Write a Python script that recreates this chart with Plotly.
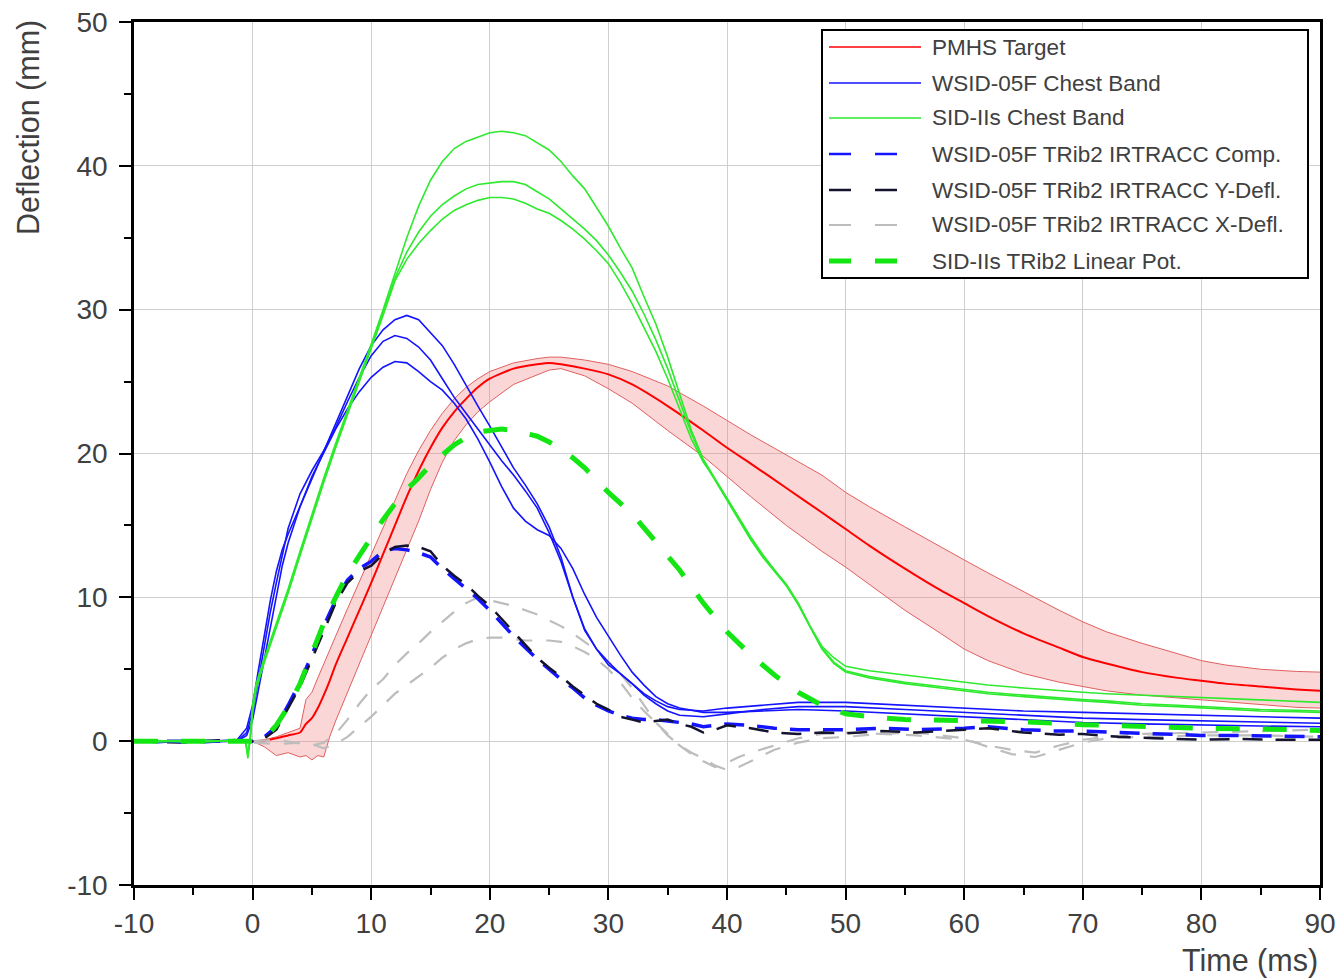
import plotly.graph_objects as go

# ---------------- data ----------------
t_pmhs = [0, 1, 2, 3, 4, 4.5, 5, 5.5, 6, 6.5, 7, 8, 9, 10, 11, 12, 13, 14, 15, 16, 17, 18, 19, 20,
          22, 24, 25, 26, 28, 30, 32, 35, 38, 40, 42, 45, 48, 50, 52, 55, 58, 60, 62, 65, 68, 70,
          72, 75, 78, 80, 82, 85, 88, 90]
pmhs_mean = [0, 0.05, 0.2, 0.4, 0.6, 1.2, 1.6, 2.3, 3.2, 4.2, 5.3,
             7.2, 9.1, 11.0, 13.0, 15.0, 17.0, 18.8, 20.4, 21.8, 22.9, 23.8, 24.6, 25.2,
             25.9, 26.2, 26.3, 26.2, 25.9, 25.5, 24.8, 23.3, 21.6, 20.4, 19.3, 17.6, 15.9, 14.75,
             13.6, 12.0, 10.5, 9.6, 8.7, 7.5, 6.5, 5.85, 5.4, 4.8, 4.4, 4.2, 4.0, 3.8, 3.6, 3.5]
pmhs_upper = [0, 0.1, 0.3, 0.6, 0.9, 2.9, 3.4, 4.4, 5.4, 6.4, 7.3,
              9.2, 11.1, 13.0, 14.9, 16.8, 18.6, 20.2, 21.6, 22.8, 23.8, 24.6, 25.2, 25.7,
              26.3, 26.6, 26.7, 26.7, 26.5, 26.2, 25.7, 24.7, 23.3, 22.3, 21.3, 19.9, 18.5, 17.3,
              16.3, 14.9, 13.5, 12.6, 11.7, 10.4, 9.1, 8.3, 7.6, 6.8, 6.1, 5.6, 5.3, 5.0, 4.85, 4.8]
pmhs_lower = [0, -0.4, -1.0, -0.8, -1.1, -1.0, -1.3, -1.0, -1.1, 0.3, 1.4,
              3.4, 5.3, 7.3, 9.3, 11.3, 13.3, 15.3, 17.5, 19.4, 20.9, 22.0, 22.9, 23.6,
              24.8, 25.5, 25.8, 25.9, 25.4, 24.5, 23.5, 21.6, 19.8, 18.4, 17.0, 15.0, 13.2, 12.1,
              10.9, 9.1, 7.5, 6.4, 5.6, 4.7, 4.1, 3.8, 3.5, 3.2, 3.0, 2.85, 2.7, 2.5, 2.35, 2.3]

t_wsid_band = [-10, -8, -6, -4, -2, -1.3, -0.5, 0, 0.5, 1, 1.5, 2, 2.5, 3,
               4, 5, 6, 7, 8, 9, 10, 11, 12, 13, 14, 15, 16, 17, 18, 19, 20, 21, 22, 23,
               24, 25, 26, 27, 28, 29, 30, 31, 32, 33, 34, 35, 36,
               38, 40, 43, 46, 50, 55, 60, 65, 70, 75, 80, 85, 90]
wsid_band_a = [0, 0, -0.1, 0, 0.1, 0.1, 0.9, 2.5, 5.0, 7.5, 9.8, 11.8, 13.3, 14.4,
               16.3, 18.2, 20.1, 22.0, 24.0, 25.9, 27.5, 28.6, 29.3, 29.6,
               29.3, 28.4, 27.5, 26.2, 24.7, 23.3, 21.9, 20.4, 19.0, 17.8,
               16.5, 14.9, 12.8, 10.0, 7.8, 6.4, 5.5, 4.7, 4.0, 3.3,
               2.8, 2.4, 2.2,
               2.1, 2.3, 2.5, 2.7, 2.7, 2.5, 2.3, 2.1, 2.0, 1.9, 1.8, 1.7, 1.6]
wsid_band_b = [0, -0.1, 0, -0.1, 0, 0, 0.6, 2.0, 4.3, 6.8, 9.0, 11.0, 13.0, 14.8,
               17.2, 18.8, 20.2, 21.8, 23.6, 25.3, 26.8, 27.8, 28.2, 28.0,
               27.4, 26.5, 25.2, 23.9, 22.8, 21.7, 20.6, 19.5, 18.5, 17.4,
               16.2, 14.5, 12.5, 10.0, 7.7, 6.4, 5.3, 4.7, 4.0, 3.2,
               2.6, 2.1, 1.8,
               1.7, 1.9, 2.2, 2.4, 2.4, 2.2, 2.0, 1.8, 1.6, 1.5, 1.4, 1.3, 1.25]
wsid_band_c = [0, 0, 0, 0, 0, 0, 0.4, 1.5, 3.6, 5.8, 8.0, 10.2, 12.2, 13.8,
               16.3, 18.4, 20.1, 21.7, 23.1, 24.3, 25.3, 26.0, 26.4, 26.3,
               25.7, 25.0, 24.4, 23.5, 22.4, 21.0, 19.4, 17.7, 16.2, 15.3,
               14.7, 14.3, 13.4, 12.0, 10.2, 8.6, 7.3, 6.0, 4.8, 3.9,
               3.1, 2.6, 2.3,
               2.0, 2.0, 2.1, 2.2, 2.1, 1.9, 1.7, 1.5, 1.3, 1.2, 1.1, 1.05, 1.0]

t_sid_band = [-10, -8, -6, -4, -2, -1, -0.6, -0.4, -0.2, 0, 0.3,
              1, 2, 3, 4, 5, 6, 7, 8, 9, 10, 11,
              12, 13, 14, 15, 16, 17, 18, 19, 20, 21,
              22, 23, 24, 25, 26, 27, 28, 29, 30, 31,
              32, 33, 34, 35, 36, 37, 38, 39, 40, 41,
              42, 43, 44, 45, 46, 47, 48, 49, 50,
              52, 55, 58, 60, 62, 65, 68, 70, 72, 75, 78, 80, 82, 85, 88, 90]
sid_band_a = [0, 0.05, -0.05, 0, 0.05, 0, 0, -1.2, 0.3, 2.5, 4.0,
              5.8, 8.2, 10.6, 13.2, 15.8, 18.3, 20.7, 23.0, 25.2, 27.6, 30.0,
              32.5, 35.0, 37.2, 39.0, 40.3, 41.2, 41.7, 42.0, 42.3, 42.4,
              42.3, 42.1, 41.6, 41.1, 40.3, 39.3, 38.4, 37.1, 35.8, 34.3,
              32.9, 30.9, 29.0, 26.7, 24.2, 21.6, 19.6, 18.2, 16.8, 15.4,
              14.1, 12.9, 11.9, 10.9, 9.6, 8.0, 6.6, 5.8, 5.2,
              4.9, 4.6, 4.3, 4.1, 3.9, 3.7, 3.5, 3.4, 3.3, 3.2, 3.1, 3.0, 2.95, 2.85, 2.75, 2.7]
sid_band_b = [0, 0, 0.05, -0.05, 0, 0.05, 0, -1.0, 0.2, 2.2, 3.8,
              5.6, 8.0, 10.4, 13.0, 15.6, 18.1, 20.5, 22.8, 25.0, 27.4, 29.8,
              32.2, 34.0, 35.4, 36.5, 37.3, 37.9, 38.4, 38.7, 38.8, 38.9,
              38.9, 38.7, 38.2, 37.7, 37.0, 36.3, 35.6, 34.8, 33.8, 32.6,
              31.3, 29.7, 27.9, 25.9, 23.7, 21.4, 19.5, 18.1, 16.7, 15.3,
              14.0, 12.8, 11.8, 10.8, 9.5, 7.9, 6.4, 5.4, 4.8,
              4.4, 4.0, 3.7, 3.5, 3.3, 3.1, 2.9, 2.8, 2.7, 2.5, 2.4, 2.3, 2.2, 2.1, 2.05, 2.0]
sid_band_c = [0, -0.05, 0, 0.05, 0, 0, 0.05, -0.9, 0.1, 2.0, 3.6,
              5.5, 7.9, 10.3, 12.9, 15.5, 18.0, 20.4, 22.7, 24.9, 27.2, 29.6,
              32.0, 33.5, 34.6, 35.5, 36.3, 36.9, 37.3, 37.6, 37.8, 37.8,
              37.7, 37.4, 37.0, 36.7, 36.2, 35.6, 34.9, 34.1, 33.2, 31.9,
              30.4, 28.8, 27.1, 25.2, 23.1, 21.0, 19.4, 18.2, 16.9, 15.5,
              14.2, 13.0, 11.9, 10.9, 9.6, 8.0, 6.5, 5.5, 4.9,
              4.5, 4.1, 3.8, 3.6, 3.4, 3.2, 3.0, 2.9, 2.8, 2.6, 2.5, 2.4, 2.3, 2.2, 2.15, 2.1]

t_irtracc = [-10, -6, -2,
             0, 1, 2, 3, 4, 5, 6, 7, 8, 9,
             10, 11, 12, 13, 14, 15, 16, 17, 18, 19,
             20, 21, 22, 23, 24, 25, 26, 27, 28, 29,
             30, 31, 32, 33, 34, 35, 36, 37, 38, 39,
             40,
             42, 44, 46, 48, 50, 53, 56, 60, 62, 65, 68, 70, 73, 76, 80, 83, 86, 90]
irtracc_comp = [0, 0, 0,
                0, 0.3, 1.0, 2.5, 4.1, 6.0, 8.0, 9.8, 11.2, 12.0,
                12.5, 13.2, 13.4, 13.3, 13.1, 12.8, 12.0, 11.3, 10.6, 9.9,
                9.1, 8.2, 7.3, 6.5, 5.7, 5.0, 4.3, 3.7, 3.0, 2.5,
                2.1, 1.8, 1.6, 1.5, 1.5, 1.4, 1.3, 1.2, 1.0, 1.1,
                1.2,
                1.1, 0.9, 0.8, 0.8, 0.8, 0.9, 0.8, 0.9, 1.0, 0.8, 0.7, 0.7, 0.6, 0.5, 0.4, 0.4, 0.35, 0.3]
irtracc_y = [0, -0.1, 0.1,
             0, 0.2, 0.8, 2.3, 3.8, 5.7, 7.7, 9.6, 11.0, 11.8,
             12.2, 13.0, 13.5, 13.6, 13.5, 13.2, 12.2, 11.5, 10.9, 10.1,
             9.4, 8.5, 7.6, 6.7, 5.8, 5.1, 4.5, 3.8, 3.2, 2.6,
             2.2, 1.7, 1.5, 1.3, 1.4, 1.5, 1.2, 1.0, 0.6, 0.8,
             1.1,
             0.9, 0.6, 0.5, 0.6, 0.55, 0.7, 0.6, 0.8, 0.9, 0.6, 0.45, 0.5, 0.3, 0.2, 0.1, 0.15, 0.1, 0.1]

t_xdefl = [-10, -6, -2, 0, 2, 4,
           5, 6, 7, 8, 9, 10, 11, 12, 13, 14,
           15, 16, 17, 18, 19, 20, 21, 22, 23, 24,
           25, 26, 27, 28, 29, 30, 31, 32, 33, 34,
           35, 36, 37, 38, 39, 40, 41, 42,
           44, 46, 48, 50, 53, 56, 60, 62, 64, 66, 68, 70, 72, 75, 80, 85, 90]
xdefl_a = [0, 0, 0, 0, 0.1, -0.2,
           -0.3, -0.1, 0.5, 1.5, 2.6, 3.6, 4.3, 5.3, 6.1, 6.8,
           7.6, 8.3, 9.0, 9.6, 10.0, 9.8, 9.6, 9.4, 9.1, 8.8,
           8.4, 8.0, 7.5, 6.9, 6.3, 5.5, 4.7, 3.7, 2.5, 1.3,
           0.5, -0.3, -0.9, -1.4, -1.8, -1.5, -1.1, -0.8,
           -0.3, 0.2, 0.5, 0.6, 0.5, 0.4, 0.1, -0.3, -0.6, -0.8, -0.3, 0.1, 0.3, 0.5, 0.6, 0.7, 0.8]
xdefl_b = [0, 0, 0, -0.1, -0.2, -0.1,
           -0.2, -0.5, -0.2, 0.3, 1.0, 1.7, 2.5, 3.3, 3.9, 4.5,
           5.1, 5.8, 6.4, 6.8, 7.1, 7.2, 7.2, 7.1, 7.0, 7.0,
           7.0, 6.9, 6.6, 6.2, 5.7, 5.0, 4.1, 3.0, 2.1, 1.3,
           0.4, -0.3, -0.8, -1.2, -1.7, -2.0, -1.8, -1.4,
           -0.6, -0.1, 0.2, 0.3, 0.5, 0.6, 0.2, -0.4, -0.9, -1.1, -0.6, -0.1, 0.2, 0.3, 0.4, 0.4, 0.3]

t_lpot = [-10, -5, -1, 0,
          1, 2, 3, 4, 5, 6, 7, 8, 9, 10,
          11, 12, 13, 14, 15, 16, 17, 18, 19, 20,
          21, 22, 23, 24, 25, 26, 27, 28, 29, 30,
          32, 34, 36, 38, 40, 42, 44, 46, 48, 50, 52,
          55, 60, 65, 70, 75, 80, 85, 90]
lpot = [0, 0, 0, 0,
        0.2, 1.1, 2.4, 4.0, 6.1, 8.2, 10.0, 11.6, 12.9, 14.2,
        15.4, 16.5, 17.5, 18.3, 19.2, 19.9, 20.6, 21.1, 21.5, 21.6,
        21.7, 21.6, 21.4, 21.2, 20.8, 20.3, 19.7, 19.0, 18.1, 17.3,
        15.8, 13.9, 11.9, 9.6, 7.6, 6.0, 4.6, 3.4, 2.5, 1.9, 1.7,
        1.5, 1.45, 1.35, 1.15, 1.0, 0.9, 0.85, 0.75]

x_ticks = [-10, 0, 10, 20, 30, 40, 50, 60, 70, 80, 90]
y_ticks = [-10, 0, 10, 20, 30, 40, 50]

legend_labels = ["PMHS Target", "WSID-05F Chest Band", "SID-IIs Chest Band",
                 "WSID-05F TRib2 IRTRACC Comp.", "WSID-05F TRib2 IRTRACC Y-Defl.",
                 "WSID-05F TRib2 IRTRACC X-Defl.", "SID-IIs TRib2 Linear Pot."]

# ---------------- styles ----------------
RED = "#ff0000"
RED_EDGE = "#e06060"
BAND_FILL = "rgba(240,120,120,0.30)"
BLUE = "#1414ff"
GREEN = "#2eea2e"
GREEN_DASH = "#14e614"
DARK = "#14142e"
GRAY = "#bdbdbd"
DASH_IR = "20px,13px"
DASH_X = "16px,14px"
DASH_LP = "24px,23px"
FONT = "Liberation Sans, Arial, Helvetica, sans-serif"
TXT = "#404040"

fig = go.Figure()

# PMHS corridor
fig.add_trace(go.Scatter(x=t_pmhs, y=pmhs_upper, mode="lines",
                         line=dict(color=RED_EDGE, width=1), showlegend=False, hoverinfo="skip"))
fig.add_trace(go.Scatter(x=t_pmhs, y=pmhs_lower, mode="lines", fill="tonexty", fillcolor=BAND_FILL,
                         line=dict(color=RED_EDGE, width=1), showlegend=False, hoverinfo="skip"))
fig.add_trace(go.Scatter(x=t_pmhs, y=pmhs_mean, mode="lines", name=legend_labels[0],
                         line=dict(color=RED, width=2, shape="spline", smoothing=0.6),
                         showlegend=False))

# X-Defl (gray dashed)
for ys in (xdefl_a, xdefl_b):
    fig.add_trace(go.Scatter(x=t_xdefl, y=ys, mode="lines", name=legend_labels[5],
                             line=dict(color=GRAY, width=2.2, dash=DASH_X), showlegend=False))

# IRTRACC comp and Y-defl
fig.add_trace(go.Scatter(x=t_irtracc, y=irtracc_comp, mode="lines", name=legend_labels[3],
                         line=dict(color=BLUE, width=3.5, dash=DASH_IR), showlegend=False))
fig.add_trace(go.Scatter(x=t_irtracc, y=irtracc_y, mode="lines", name=legend_labels[4],
                         line=dict(color=DARK, width=2.5, dash=DASH_IR), showlegend=False))

# WSID chest bands
for ys in (wsid_band_a, wsid_band_b, wsid_band_c):
    fig.add_trace(go.Scatter(x=t_wsid_band, y=ys, mode="lines", name=legend_labels[1],
                             line=dict(color=BLUE, width=1.6), showlegend=False))

# SID-IIs chest bands
for ys in (sid_band_a, sid_band_b, sid_band_c):
    fig.add_trace(go.Scatter(x=t_sid_band, y=ys, mode="lines", name=legend_labels[2],
                             line=dict(color=GREEN, width=1.6), showlegend=False))

# SID-IIs linear pot
fig.add_trace(go.Scatter(x=t_lpot, y=lpot, mode="lines", name=legend_labels[6],
                         line=dict(color=GREEN_DASH, width=5, dash=DASH_LP), showlegend=False))

# ---------------- layout ----------------
W, H = 1341, 979
L, R, T, B = 134, 21, 22, 94


def pxx(px):
    return (px - L) / (W - L - R)


def pxy(py):
    return (H - B - py) / (H - T - B)


axis_common = dict(
    automargin=False,
    showline=True, linewidth=2.5, linecolor="black", mirror=True,
    ticks="outside", ticklen=12, tickwidth=2, tickcolor="black",
    showgrid=True, gridcolor="#cfcfcf", gridwidth=1, zeroline=False,
    tickfont=dict(family=FONT, size=28, color=TXT),
    minor=dict(ticks="outside", ticklen=7, tickwidth=2, tickcolor="black", showgrid=False),
)

fig.update_layout(
    width=W, height=H,
    margin=dict(l=L, r=R, t=T, b=B, pad=0, autoexpand=False),
    paper_bgcolor="white", plot_bgcolor="white",
    font=dict(family=FONT, color=TXT),
    showlegend=False,
    xaxis=dict(range=[-10, 90], tickmode="array", tickvals=x_ticks,
               ticktext=[str(v) for v in x_ticks], **axis_common),
    yaxis=dict(range=[-10, 50], tickmode="array", tickvals=y_ticks,
               ticktext=[str(v) for v in y_ticks], ticklabelstandoff=6, **axis_common),
)
fig.update_xaxes(minor_dtick=5, minor_tick0=-10)
fig.update_yaxes(minor_dtick=5, minor_tick0=-10)

annotations = [
    dict(text="Deflection (mm)", xref="paper", yref="paper", x=pxx(28), y=pxy(128),
         textangle=-90, showarrow=False, xanchor="center", yanchor="middle",
         font=dict(family=FONT, size=30.5, color=TXT)),
    dict(text="Time (ms)", xref="paper", yref="paper", x=pxx(1320), y=pxy(960),
         showarrow=False, xanchor="right", yanchor="middle",
         font=dict(family=FONT, size=30.5, color=TXT)),
]

# manual legend (box, sample lines, labels)
shapes = [dict(type="rect", xref="paper", yref="paper", x0=pxx(822), x1=pxx(1308),
               y0=pxy(278), y1=pxy(30), line=dict(color="black", width=2),
               fillcolor="white", layer="above")]
row_y = [47, 83, 118, 154, 190, 225, 261]
samples = [(RED, 1.6, "solid"), (BLUE, 1.6, "solid"), (GREEN, 1.6, "solid"),
           (BLUE, 2.5, "22px,24px"), (DARK, 2.5, "22px,24px"), (GRAY, 2.2, "22px,24px"),
           (GREEN_DASH, 5, "22px,24px")]
for lab, yy, (col, wid, dsh) in zip(legend_labels, row_y, samples):
    shapes.append(dict(type="line", xref="paper", yref="paper", x0=pxx(829), x1=pxx(921),
                       y0=pxy(yy), y1=pxy(yy), line=dict(color=col, width=wid, dash=dsh),
                       layer="above"))
    annotations.append(dict(text=lab, xref="paper", yref="paper", x=pxx(930), y=pxy(yy),
                            xanchor="left", yanchor="middle", showarrow=False,
                            font=dict(family=FONT, size=22.5, color=TXT)))

fig.update_layout(shapes=shapes, annotations=annotations)

fig.write_html("out.html")
